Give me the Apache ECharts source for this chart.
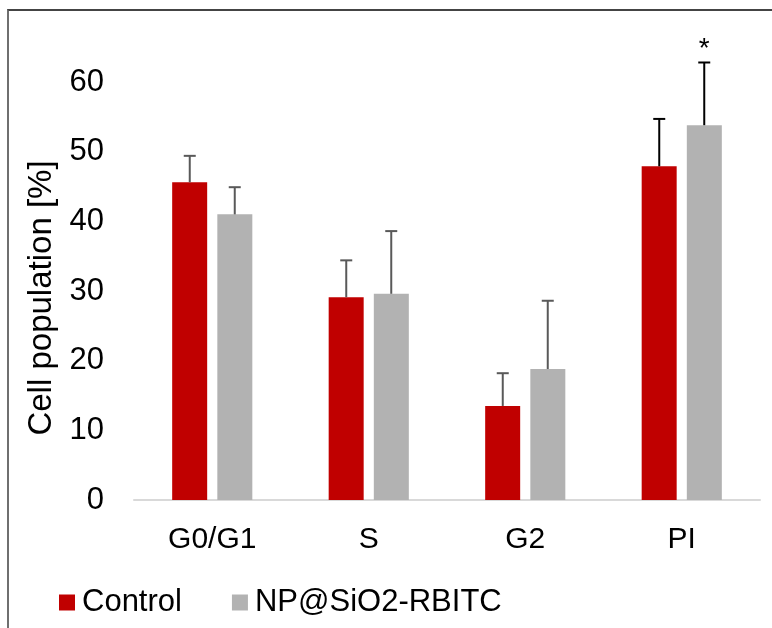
<!DOCTYPE html>
<html>
<head>
<meta charset="utf-8">
<script src="https://cdn.jsdelivr.net/npm/echarts@6/dist/echarts.min.js"></script>
</head>
<body style="margin:0;background:#fff">
<div id="frame" style="position:absolute;left:7px;top:9px;width:800px;height:700px;border-left:2px solid #6f6f6f;border-top:2px solid #444"></div>
<div id="main" style="position:absolute;left:0;top:0;width:772px;height:628px"></div>
<script>
var categories = ['G0/G1', 'S', 'G2', 'PI'];
var control = [45.6, 29.1, 13.5, 47.9];
var controlErr = [3.8, 5.3, 4.7, 6.8];
var np = [41.0, 29.6, 18.8, 53.8];
var npErr = [3.9, 9.0, 9.8, 9.0];
var npSig = ['', '', '', '*'];
var yTicks = [0, 10, 20, 30, 40, 50, 60];

var chart = echarts.init(document.getElementById('main'));
var font = 'Liberation Sans, Arial, sans-serif';

function errorSeries(name, vals, errs, sig, offset) {
    return {
        type: 'custom',
        name: name + ' err',
        z: 5,
        silent: true,
        renderItem: function (params, api) {
            var i = api.value(0);
            var base = api.coord([i, vals[i]]);
            var top = api.coord([i, vals[i] + errs[i]]);
            var x = base[0] + offset;
            var col = i === 3 ? '#000' : '#595959';
            var kids = [
                {type: 'line', shape: {x1: x, y1: base[1], x2: x, y2: top[1]}, style: {stroke: col, lineWidth: 2}},
                {type: 'line', shape: {x1: x - 6, y1: top[1], x2: x + 6, y2: top[1]}, style: {stroke: col, lineWidth: 2}}
            ];
            if (sig && sig[i]) {
                kids.push({type: 'text', style: {text: sig[i], x: x, y: top[1] - 27, align: 'center', verticalAlign: 'top', font: '28px ' + font, fill: '#000'}});
            }
            return {type: 'group', children: kids};
        },
        data: categories.map(function (c, i) { return [i, vals[i]]; })
    };
}

chart.setOption({
    animation: false,
    textStyle: {fontFamily: font},
    grid: {left: 134, right: 12, top: 82, bottom: 128, containLabel: false},
    legend: {
        left: 54, top: 582,
        icon: 'rect', itemWidth: 16, itemHeight: 16, itemGap: 50,
        textStyle: {fontSize: 31, color: '#000', padding: [0, 0, 0, 2]},
        data: ['Control', 'NP@SiO2-RBITC']
    },
    xAxis: {
        type: 'category',
        data: categories,
        axisLine: {lineStyle: {color: '#d9d9d9', width: 2}},
        axisTick: {show: false},
        axisLabel: {fontSize: 30, color: '#000', margin: 25}
    },
    yAxis: {
        type: 'value',
        min: yTicks[0], max: yTicks[yTicks.length - 1], interval: 10,
        name: 'Cell population [%]',
        nameLocation: 'middle', nameGap: 70,
        nameTextStyle: {fontSize: 33, color: '#000', padding: [0, 14, 0, 0]},
        axisLine: {show: false},
        axisTick: {show: false},
        splitLine: {show: false},
        axisLabel: {fontSize: 31, color: '#000', margin: 30}
    },
    series: [
        {name: 'Control', type: 'bar', data: control, barWidth: 35, barGap: '29%', itemStyle: {color: '#c00000'}},
        {name: 'NP@SiO2-RBITC', type: 'bar', data: np, barWidth: 35, itemStyle: {color: '#b2b2b2'}},
        errorSeries('Control', control, controlErr, null, -22.5),
        errorSeries('NP@SiO2-RBITC', np, npErr, npSig, 22.5)
    ]
});
</script>
</body>
</html>
